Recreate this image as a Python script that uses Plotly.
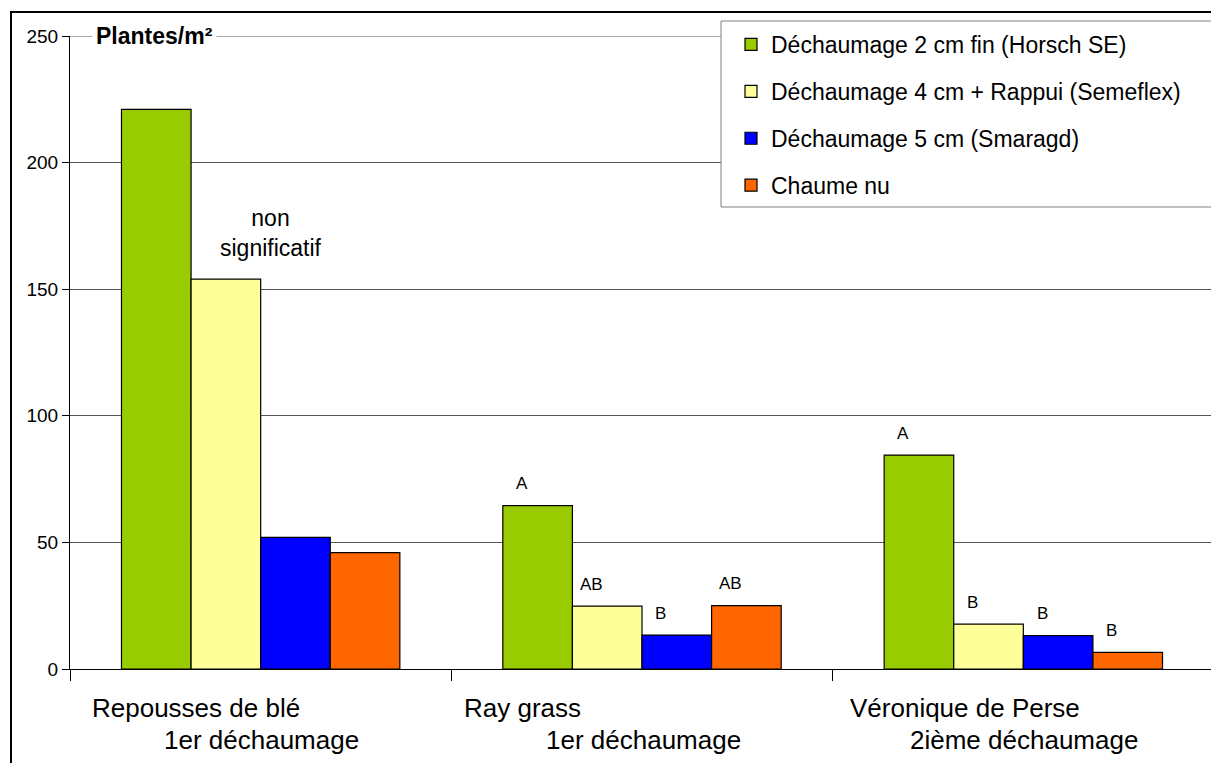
import plotly.graph_objects as go

categories = ["Repousses de blé", "Ray grass", "Véronique de Perse"]
sublabels = ["1er déchaumage", "1er déchaumage", "2ième déchaumage"]
series_names = [
    "Déchaumage 2 cm fin (Horsch SE)",
    "Déchaumage 4 cm + Rappui (Semeflex)",
    "Déchaumage 5 cm (Smaragd)",
    "Chaume nu",
]
values = [
    [221, 64.5, 84.5],
    [154, 24.8, 17.7],
    [52, 13.4, 13.2],
    [46, 25, 6.6],
]
colors = ["#99CC00", "#FFFF99", "#0000FF", "#FF6600"]
letters = [
    ["", "A", "A"],
    ["", "AB", "B"],
    ["", "B", "B"],
    ["", "AB", "B"],
]
y_ticks = [0, 50, 100, 150, 200, 250]

FONT = "Liberation Sans, Arial, sans-serif"
W, H = 1211, 763
ML, MT, MB, MR = 70, 36, 94, 0
PW = W - ML - MR
PH = H - MT - MB
CAT_PX = 381.3
BARGAP = 0.27
BAR_PX = CAT_PX * (1 - BARGAP) / 4

fig = go.Figure()
for name, vals, col in zip(series_names, values, colors):
    fig.add_trace(go.Bar(
        x=categories, y=vals, name=name, legendgroup=name,
        marker=dict(color=col, line=dict(color="#000000", width=1.2)),
    ))

annotations = []
# significance letters
for j, (labs, vals) in enumerate(zip(letters, values)):
    for i, (lab, v) in enumerate(zip(labs, vals)):
        if lab:
            annotations.append(dict(
                x=categories[i], y=v, xref="x", yref="y", text=lab,
                showarrow=False, xanchor="center", yanchor="middle",
                xshift=(j - 1.5) * BAR_PX - 16, yshift=22,
                font=dict(family=FONT, size=17, color="#000"),
            ))
annotations.append(dict(
    x=categories[0], y=values[1][0], xref="x", yref="y",
    text="non<br>significatif", showarrow=False,
    xanchor="center", yanchor="middle",
    xshift=10, yshift=46,
    font=dict(family=FONT, size=23, color="#000"),
))
# category labels
first_shift = [-171, -180, -175]
for i, (c, s) in enumerate(zip(categories, sublabels)):
    annotations.append(dict(
        x=c, y=0, xref="x", yref="y", text=c, showarrow=False,
        xanchor="left", yanchor="middle", xshift=first_shift[i], yshift=-39,
        font=dict(family=FONT, size=26, color="#000"),
    ))
    annotations.append(dict(
        x=c, y=0, xref="x", yref="y", text=s, showarrow=False,
        xanchor="center", yanchor="middle", xshift=1, yshift=-71,
        font=dict(family=FONT, size=26, color="#000"),
    ))
# y title
annotations.append(dict(
    x=0, y=1, xref="paper", yref="paper", text="<b>Plantes/m²</b>",
    showarrow=False, xanchor="left", yanchor="middle", xshift=22,
    bgcolor="white", borderpad=3,
    font=dict(family=FONT, size=23, color="#000"),
))

shapes = [
    # top gridline (at the edge of the plot area)
    dict(type="line", xref="paper", yref="y", x0=0, x1=1,
         y0=y_ticks[-1], y1=y_ticks[-1],
         line=dict(color="#555555", width=1), layer="below"),
    # outer chart border
    dict(type="rect", xref="paper", yref="paper",
         x0=(11 - ML) / PW, x1=1.1, y0=-0.3, y1=1 + (MT - 12) / PH,
         line=dict(color="#000", width=2), fillcolor="rgba(0,0,0,0)", layer="above"),
    # legend box
    dict(type="rect", xref="paper", yref="paper",
         x0=(721 - ML) / PW, x1=1.1, y0=1 - (207 - MT) / PH, y1=1 + (MT - 21) / PH,
         line=dict(color="#808080", width=1), fillcolor="white", layer="above"),
]

fig.update_layout(
    width=W, height=H,
    margin=dict(l=ML, r=MR, t=MT, b=MB, pad=0),
    paper_bgcolor="white", plot_bgcolor="white",
    barmode="group", bargap=BARGAP, bargroupgap=0,
    font=dict(family=FONT, color="#000"),
    showlegend=True,
    legend=dict(
        x=(731 - ML) / PW, y=1 + (MT - 23) / PH, xanchor="left", yanchor="top",
        bgcolor="rgba(0,0,0,0)", borderwidth=0,
        font=dict(family=FONT, size=23, color="#000"),
        traceorder="grouped", tracegroupgap=14,
    ),
    annotations=annotations,
    shapes=shapes,
    xaxis=dict(
        range=[-0.5, 2.5 - 3.0 / CAT_PX * 1.0], showticklabels=False,
        ticks="outside", tickson="boundaries", ticklen=11, tickcolor="#000",
        showline=True, linecolor="#000", linewidth=1, showgrid=False,
        zeroline=False, fixedrange=True,
    ),
    yaxis=dict(
        range=[0, 250], tickvals=y_ticks,
        ticks="outside", ticklen=7, tickcolor="#000",
        showline=True, linecolor="#000", linewidth=1,
        showgrid=True, gridcolor="#555555", gridwidth=1,
        zeroline=False,
        tickfont=dict(family=FONT, size=19, color="#000"),
    ),
)

fig.write_html(
    "out.html",
    config={"displayModeBar": False},
    post_script="document.body.style.margin='0';document.documentElement.style.overflow='hidden';document.body.style.overflow='hidden';",
)
